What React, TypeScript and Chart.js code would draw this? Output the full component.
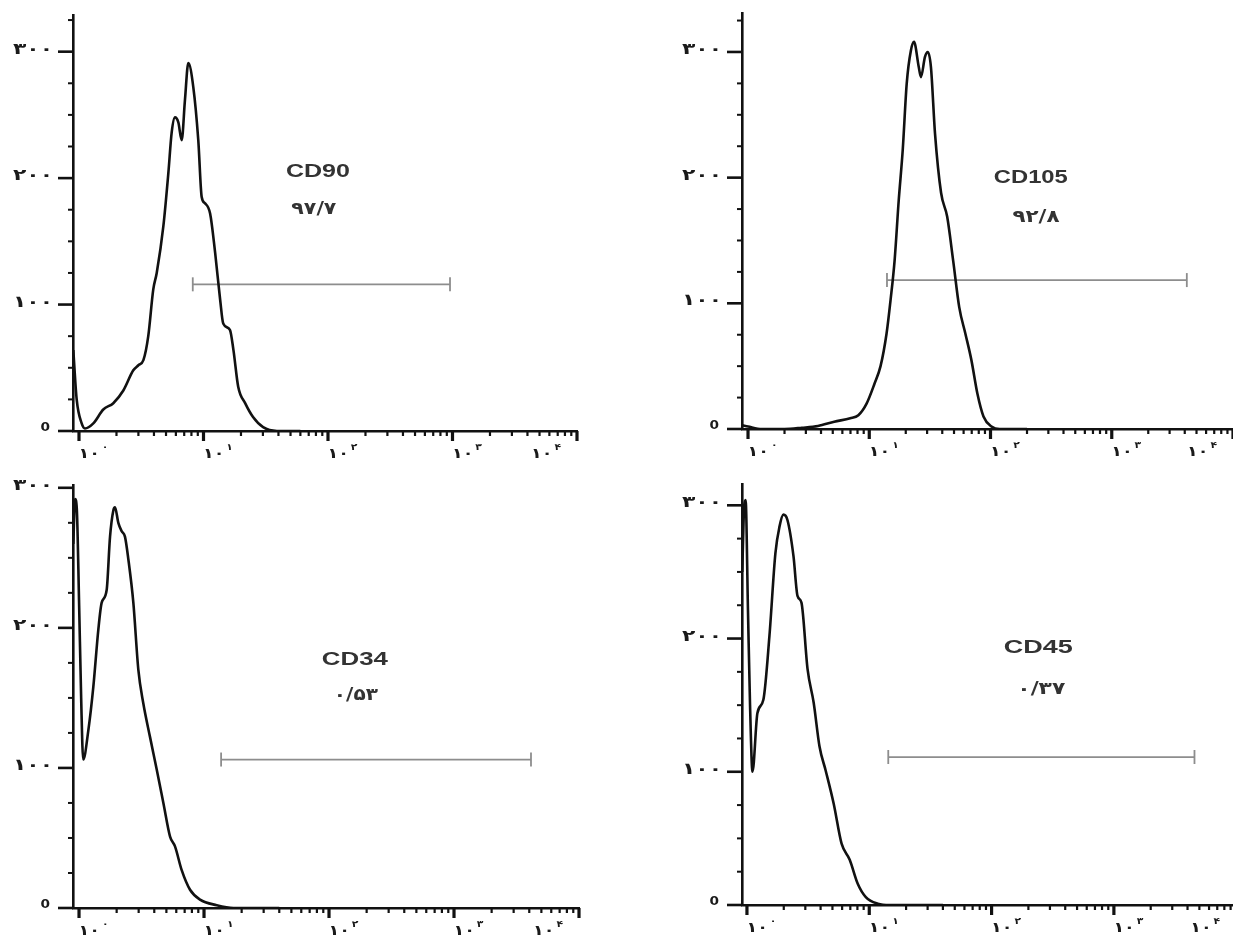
import React, { useEffect, useRef } from "react";
import { Chart, registerables } from "chart.js";

Chart.register(...registerables);

// ---------------- data ----------------
// CD90 histogram (fluorescence intensity, event count)
const cd90X = [0.9, 0.958, 1.051, 1.117, 1.303, 1.567, 1.886, 2.27, 2.73, 3.0, 3.29, 3.6, 3.95, 4.21, 4.76, 5.22, 5.55, 5.9, 6.28, 6.68, 7.1, 7.55, 8.28, 9.08, 9.67, 10.3, 11.3, 12.4, 13.6, 14.4, 16.3, 17.4, 19.0, 21.6, 25.0, 30.1, 38.9, 60];
const cd90Y = [64, 25, 6, 2, 6, 17, 22, 32, 48, 52, 56, 75, 112, 125, 162, 204, 236, 248, 244, 230, 262, 291, 272, 230, 185, 180, 172, 141, 104, 85, 80, 64, 35, 22, 11, 3, 0, 0];
const cd90GateX = [8.2, 955];
const cd90GateY = 116;

// CD105 histogram
const cd105X = [0.9, 1.0, 1.3, 2.0, 2.78, 3.78, 5.14, 6.97, 8.13, 9.48, 11.04, 12.39, 13.89, 15.0, 16.18, 17.5, 18.88, 20.37, 22.03, 23.4, 25.6, 26.68, 28.8, 30.37, 32.26, 34.86, 39.1, 43.9, 49.2, 55.2, 62.0, 69.5, 78.0, 87.5, 101.9, 118.9, 200];
const cd105Y = [3, 2, 0, 0, 1, 2.4, 5.8, 8.5, 11, 20, 36, 50, 76, 103, 134, 182, 222, 275, 301, 308, 288, 280, 296, 300, 288, 235, 188, 169, 134, 97, 76, 55, 28, 10, 2, 0, 0];
const cd105GateX = [14.0, 4160];
const cd105GateY = 118.5;

// CD34 histogram
const cd34X = [0.9, 0.93, 0.96, 1.0, 1.04, 1.08, 1.188, 1.302, 1.428, 1.518, 1.664, 1.77, 1.883, 1.94, 2.063, 2.195, 2.333, 2.481, 2.72, 2.983, 3.27, 3.7, 4.18, 4.73, 5.35, 5.86, 6.63, 7.73, 9.29, 12.63, 17.2, 40];
const cd34Y = [260, 292, 285, 220, 150, 106, 127, 158, 199, 218, 227, 265, 284, 286, 275, 269, 265, 249, 218, 170, 146, 122, 99, 75, 51, 44, 27, 13, 6, 2, 0, 0];
const cd34GateX = [13.7, 4130];
const cd34GateY = 106;

// CD45 histogram
const cd45X = [0.915, 0.95, 0.975, 1.02, 1.06, 1.11, 1.217, 1.362, 1.527, 1.708, 1.845, 1.987, 2.143, 2.4, 2.59, 2.79, 3.13, 3.51, 3.92, 4.4, 5.12, 5.94, 6.92, 8.05, 9.37, 11.75, 14.7, 40];
const cd45Y = [250, 300, 304, 220, 150, 100, 144, 154, 202, 264, 284, 293, 289, 262, 232, 227, 177, 152, 119, 101, 76, 46, 34, 16, 6, 1, 0, 0];
const cd45GateX = [14.3, 4560];
const cd45GateY = 111;

// tick labels
const yTickStep = 25;
const yLabelValues = [0, 100, 200, 300];
const yLabelText = ["0", "۱۰۰", "۲۰۰", "۳۰۰"];
const xDecades = [0, 1, 2, 3, 4];
const xLabelBase = "۱۰";
const xLabelExponent = ["۰", "۱", "۲", "۳", "۴"];

// ---------------- panels ----------------
type Panel = {
  key: string;
  cx: number; cy: number; cw: number; ch: number;
  L: number; R: number; T: number; B: number;
  xMin: number; xMax: number; yMax: number;
  xs: number[]; ys: number[];
  gateX: number[]; gateY: number;
  name: string; pct: string;
  nameAt: number[]; pctAt: number[];
  nameW: number; pctW: number;
};

const panels: Panel[] = [
  {
    key: "cd90", cx: 0, cy: 0, cw: 600, ch: 470,
    L: 73, R: 577, T: 15, B: 431,
    xMin: 0.895, xMax: 10000, yMax: 329,
    xs: cd90X, ys: cd90Y, gateX: cd90GateX, gateY: cd90GateY,
    name: "CD90", pct: "۹۷/۷", nameAt: [83, 205], pctAt: [77, 175], nameW: 64, pctW: 45,
  },
  {
    key: "cd105", cx: 600, cy: 0, cw: 645, ch: 470,
    L: 742, R: 1233, T: 13, B: 429,
    xMin: 0.892, xMax: 10000, yMax: 331,
    xs: cd105X, ys: cd105Y, gateX: cd105GateX, gateY: cd105GateY,
    name: "CD105", pct: "۹۲/۸", nameAt: [215, 200], pctAt: [237, 168], nameW: 74, pctW: 47,
  },
  {
    key: "cd34", cx: 0, cy: 470, cw: 600, ch: 473,
    L: 73, R: 579, T: 485, B: 908,
    xMin: 0.895, xMax: 10000, yMax: 302,
    xs: cd34X, ys: cd34Y, gateX: cd34GateX, gateY: cd34GateY,
    name: "CD34", pct: "۰/۵۳", nameAt: [161, 177], pctAt: [164, 152], nameW: 66, pctW: 44,
  },
  {
    key: "cd45", cx: 600, cy: 470, cw: 645, ch: 473,
    L: 742, R: 1239, T: 484, B: 905,
    xMin: 0.911, xMax: 10000, yMax: 316,
    xs: cd45X, ys: cd45Y, gateX: cd45GateX, gateY: cd45GateY,
    name: "CD45", pct: "۰/۳۷", nameAt: [241, 193], pctAt: [255, 162], nameW: 69, pctW: 48,
  },
];

// ---------------- drawing helpers ----------------
function drawText(ctx: CanvasRenderingContext2D, text: string, x: number, y: number, font: string, align: CanvasTextAlign, sx: number) {
  ctx.save();
  ctx.font = font;
  ctx.textBaseline = "middle";
  ctx.textAlign = align;
  ctx.translate(x, y);
  ctx.scale(sx, 1);
  ctx.fillText(text, 0, 0);
  ctx.restore();
}

function textWidth(ctx: CanvasRenderingContext2D, text: string, font: string) {
  ctx.save();
  ctx.font = font;
  const w = ctx.measureText(text).width;
  ctx.restore();
  return w;
}

function drawFit(ctx: CanvasRenderingContext2D, text: string, x: number, y: number, font: string, align: CanvasTextAlign, width: number) {
  const w = textWidth(ctx, text, font) || 1;
  drawText(ctx, text, x, y, font, align, width / w);
}

const TICK_FONT = 'bold 16px "DejaVu Sans", sans-serif';
const ZERO_FONT = 'bold 13px "DejaVu Sans", sans-serif';
const BASE_FONT = 'bold 14px "DejaVu Sans", sans-serif';
const EXP_FONT = 'bold 9px "DejaVu Sans", sans-serif';
const NAME_FONT = 'bold 18px "Liberation Sans", "DejaVu Sans", sans-serif';
const PCT_FONT = 'bold 17px "DejaVu Sans", sans-serif';

function makeAxesPlugin(p: Panel) {
  return {
    id: "flowAxes_" + p.key,
    afterDraw(chart: any) {
      const ctx: CanvasRenderingContext2D = chart.ctx;
      const xs = chart.scales.x;
      const ys = chart.scales.y;
      const a = chart.chartArea;
      ctx.save();
      ctx.strokeStyle = "#111";
      ctx.fillStyle = "#1a1a1a";

      // y tick marks
      for (let v = 0; v <= p.yMax + 1e-9; v += yTickStep) {
        const y = ys.getPixelForValue(v);
        const major = v % 100 === 0;
        ctx.lineWidth = major ? 2.6 : 2;
        ctx.beginPath();
        ctx.moveTo(a.left, y);
        ctx.lineTo(a.left - (major ? 15 : 5), y);
        ctx.stroke();
      }
      // y labels
      yLabelValues.forEach((v, i) => {
        const y = ys.getPixelForValue(v);
        if (i === 0) drawText(ctx, yLabelText[i], a.left - 23, y - 3, ZERO_FONT, "right", 1.05);
        else drawFit(ctx, yLabelText[i], a.left - 20, y - 2, TICK_FONT, "right", 40);
      });

      // x tick marks
      for (let d = 0; d <= 4; d++) {
        for (let m = 1; m <= 9; m++) {
          const v = m * Math.pow(10, d);
          if (v < p.xMin || v > p.xMax * 1.0001) continue;
          const x = xs.getPixelForValue(v);
          const major = m === 1;
          ctx.lineWidth = major ? 3.2 : 2.2;
          ctx.beginPath();
          ctx.moveTo(x, a.bottom);
          ctx.lineTo(x, a.bottom + (major ? 10 : 5));
          ctx.stroke();
        }
      }
      // x labels (10 with superscript exponent)
      xDecades.forEach((d, i) => {
        const x = xs.getPixelForValue(Math.pow(10, d));
        const sx = 1.25;
        const wb = textWidth(ctx, xLabelBase, BASE_FONT) * sx;
        const we = textWidth(ctx, xLabelExponent[i], EXP_FONT) * 1.2;
        const total = wb + 2 + we;
        const left = d === 4 ? x - 16 - total : x - 0.5;
        const y = a.bottom + 23;
        drawText(ctx, xLabelBase, left, y, BASE_FONT, "left", sx);
        drawText(ctx, xLabelExponent[i], left + wb + 2, y - 6, EXP_FONT, "left", 1.2);
      });

      // annotations
      ctx.fillStyle = "#333";
      drawFit(ctx, p.name, xs.getPixelForValue(p.nameAt[0]), ys.getPixelForValue(p.nameAt[1]), NAME_FONT, "center", p.nameW);
      drawFit(ctx, p.pct, xs.getPixelForValue(p.pctAt[0]), ys.getPixelForValue(p.pctAt[1]), PCT_FONT, "center", p.pctW);
      ctx.restore();
    },
  };
}

function HistogramPanel({ p }: { p: Panel }) {
  const ref = useRef<HTMLCanvasElement | null>(null);
  useEffect(() => {
    if (!ref.current) return;
    const chart = new Chart(ref.current, {
      type: "line",
      data: {
        datasets: [
          {
            data: p.xs.map((x, i) => ({ x, y: p.ys[i] })),
            borderColor: "#111",
            borderWidth: 2.6,
            pointRadius: 0,
            fill: false,
            cubicInterpolationMode: "monotone",
          } as any,
          {
            data: p.gateX.map((x) => ({ x, y: p.gateY })),
            borderColor: "#8d8d8d",
            borderWidth: 1.8,
            pointStyle: "line",
            pointRadius: 7,
            pointRotation: 90,
            pointBorderColor: "#8d8d8d",
            pointBorderWidth: 1.8,
            fill: false,
          } as any,
        ],
      },
      options: {
        animation: false,
        responsive: false,
        maintainAspectRatio: false,
        devicePixelRatio: 1,
        events: [],
        layout: {
          padding: { left: 0, top: p.T - p.cy, right: p.cx + p.cw - p.R, bottom: 0 },
        },
        scales: {
          x: {
            type: "logarithmic",
            min: p.xMin,
            max: p.xMax,
            grid: { display: false, drawTicks: false },
            border: { display: true, color: "#111", width: 2.6 },
            ticks: { display: false },
            afterFit: (s: any) => { s.height = p.cy + p.ch - p.B; },
          },
          y: {
            type: "linear",
            min: 0,
            max: p.yMax,
            grid: { display: false, drawTicks: false },
            border: { display: true, color: "#111", width: 2.6 },
            ticks: { display: false },
            afterFit: (s: any) => { s.width = p.L - p.cx; },
          },
        } as any,
        plugins: {
          legend: { display: false },
          tooltip: { enabled: false },
        },
      },
      plugins: [makeAxesPlugin(p)],
    });
    return () => chart.destroy();
  }, [p]);
  return (
    <canvas
      ref={ref}
      width={p.cw}
      height={p.ch}
      style={{ position: "absolute", left: p.cx, top: p.cy, width: p.cw, height: p.ch, display: "block" }}
    />
  );
}

export default function App() {
  return (
    <div
      style={{
        position: "absolute",
        left: 0,
        top: 0,
        width: 1233,
        height: 943,
        overflow: "hidden",
        background: "#ffffff",
      }}
    >
      {panels.map((p) => (
        <HistogramPanel key={p.key} p={p} />
      ))}
    </div>
  );
}
